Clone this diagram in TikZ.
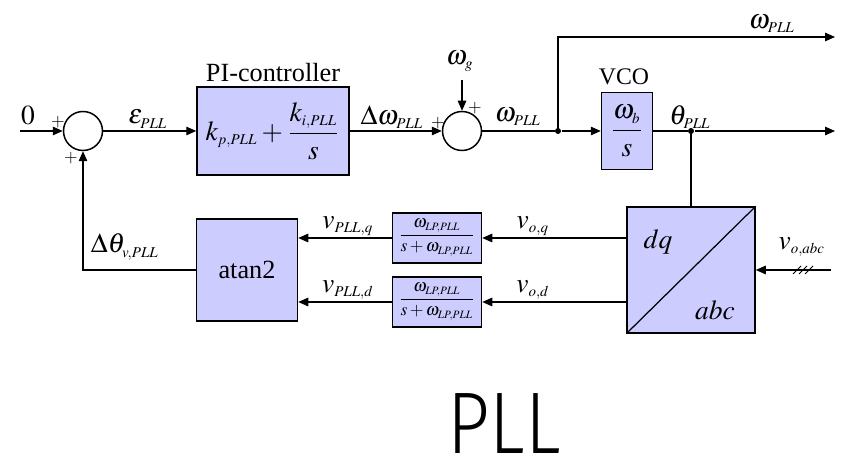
\documentclass[tikz,border=0pt]{standalone}
\usepackage{mathptmx}
\usepackage{fontspec}
\setmainfont{Liberation Serif}
\newfontfamily\titlefont[FakeStretch=0.85]{Fira Sans Light}
\usetikzlibrary{arrows.meta}
\definecolor{blockfill}{RGB}{204,204,255}
\DeclareMathSizes{10.5}{11}{6}{5}
\DeclareMathSizes{7}{7}{4.5}{4}

\begin{document}
\begin{tikzpicture}[x=0.4pt,y=-0.4pt,font=\fontsize{10.5}{12}\selectfont,
  block/.style={draw,line width=.6pt,fill=blockfill,inner sep=0pt},
  sum/.style={draw,circle,line width=.6pt,minimum size=15.6pt,inner sep=0pt},
  sig/.style={-{Triangle[length=4pt,width=3.4pt]},line width=.5pt},
  wire/.style={line width=.5pt},
  junc/.style={circle,fill,inner sep=0pt,minimum size=2.4pt},
  sign/.style={font=\scriptsize,inner sep=0pt}
]
  \useasboundingbox (0,0) rectangle (844,457);

  % blocks
  \node[sum] (sum1) at (83,131) {};
  \node[block,minimum width=60.8pt,minimum height=35.2pt] (pi) at (273,131)
    {$\displaystyle k_{p,PLL}+\frac{k_{i,PLL}}{s}$};
  \node (pilabel) at (273,73) {PI-controller};
  \node[sum] (sum2) at (462,131) {};
  \node[block,minimum width=20.4pt,minimum height=30.8pt] (vco) at (627,131)
    {$\displaystyle\frac{\omega_b}{s}$};
  \node[font=\fontsize{9.5}{11}\selectfont] (vcolabel) at (624,77) {VCO};
  \node[block,minimum width=51.2pt,minimum height=50.4pt] (dq) at (691,270) {};
  \draw[wire] (dq.south west) -- (dq.north east);
  \node (dqtxt) at (658,242) {$dq$};
  \node (abctxt) at (715,310) {$abc$};
  \node[block,minimum width=35.6pt,minimum height=20pt] (lpq) at (437,238)
    {\scriptsize$\displaystyle\frac{\omega_{LP,PLL}}{s+\omega_{LP,PLL}}$};
  \node[block,minimum width=35.6pt,minimum height=20pt] (lpd) at (437,302)
    {\scriptsize$\displaystyle\frac{\omega_{LP,PLL}}{s+\omega_{LP,PLL}}$};
  \node[block,minimum width=40.4pt,minimum height=40.8pt] (atan) at (247,270) {atan2};

  \coordinate (in) at (20,131);
  \coordinate (wg) at (462,80);
  \node[junc] (j1) at (558,131) {};
  \node[junc] (j2) at (691,131) {};
  \coordinate (out1) at (835,37);
  \coordinate (out2) at (835,131);
  \coordinate (vin) at (831,270);

  % connectors
  \draw[sig] (in) -- (sum1);
  \draw[sig] (sum1) -- (pi);
  \draw[sig] (pi) -- (sum2);
  \draw[sig] (wg) -- (sum2);
  \draw[wire] (sum2) -- (j1);
  \draw[sig] (j1) -- (vco);
  \draw[sig] (j1.center) |- (out1);
  \draw[wire] (vco) -- (j2);
  \draw[sig] (j2) -- (out2);
  \draw[wire] (j2.center) -- (dq);
  \draw[sig] (vin) -- (dq.east);
  \foreach \x in {797,803,809}
    \draw[line width=.4pt] (\x-4,274) -- (\x+4,266);
  \draw[sig] (dq.west |- lpq) -- (lpq);
  \draw[sig] (dq.west |- lpd) -- (lpd);
  \draw[sig] (lpq) -- (atan.east |- lpq);
  \draw[sig] (lpd) -- (atan.east |- lpd);
  \draw[sig] (atan.west) -| (sum1.south);

  % signal labels
  \node (zero) at (28,116) {$0$};
  \node[sign] (p1) at (58,122) {$+$};
  \node[sign] (p2) at (71,158) {$+$};
  \node (eps) at (148,119) {$\varepsilon_{PLL}$};
  \node (dw) at (392,117) {$\Delta\omega_{PLL}$};
  \node (wgl) at (460,61) {$\omega_g$};
  \node[sign] (p3) at (438,123) {$+$};
  \node[sign] (p4) at (475,108) {$+$};
  \node (wpll) at (518,117) {$\omega_{PLL}$};
  \node (wout) at (772,24) {$\omega_{PLL}$};
  \node (th) at (690,117) {$\theta_{PLL}$};
  \node (voabc) at (802,247) {$v_{o,abc}$};
  \node (voq) at (533,226) {$v_{o,q}$};
  \node (vod) at (533,290) {$v_{o,d}$};
  \node (vpq) at (348,226) {$v_{PLL,q}$};
  \node (vpd) at (348,290) {$v_{PLL,d}$};
  \node (dth) at (125,247) {$\Delta\theta_{v,PLL}$};

  \node[font=\titlefont\fontsize{35}{38}\selectfont,anchor=base,inner sep=0pt] (title) at (504,453) {PLL};
\end{tikzpicture}
\end{document}
